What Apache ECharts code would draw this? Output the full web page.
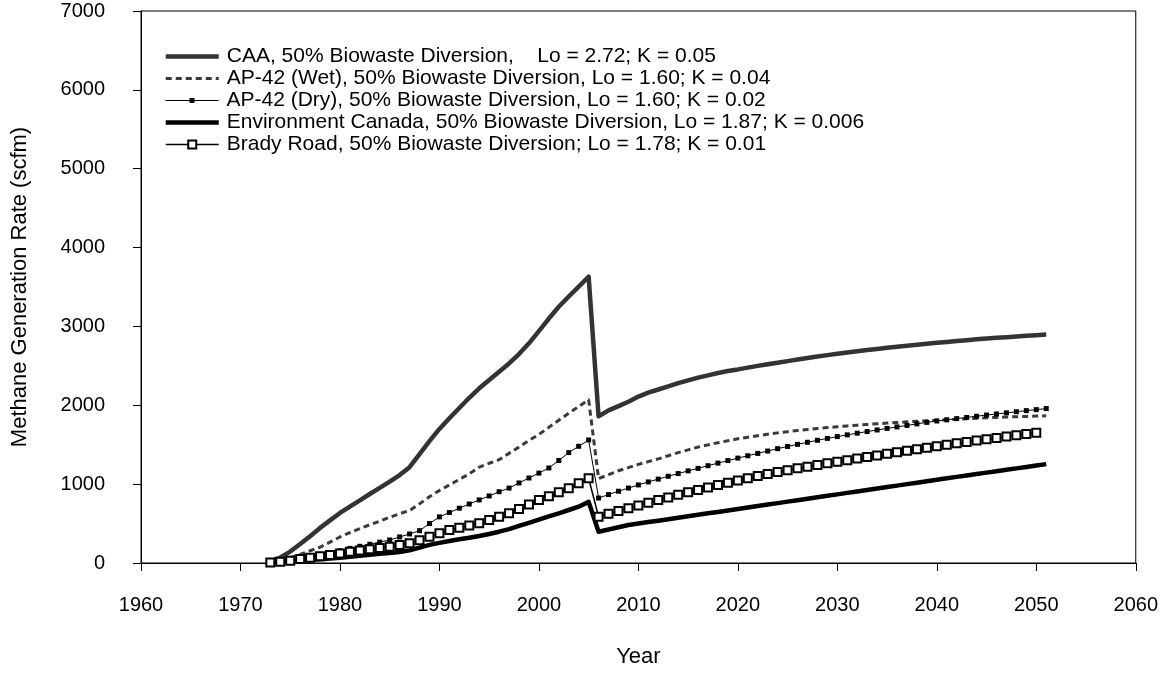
<!DOCTYPE html>
<html>
<head>
<meta charset="utf-8">
<script src="https://cdn.jsdelivr.net/npm/echarts@6/dist/echarts.min.js"></script>
<style>
  html, body { margin: 0; padding: 0; background: #fff; }
  #chart { width: 1161px; height: 675px; }
</style>
</head>
<body>
<div id="chart"></div>
<script>
// Landfill methane generation forecasts, annual values (scfm)
const years = [
  1973, 1974, 1975, 1976, 1977, 1978, 1979, 1980, 1981, 1982,
  1983, 1984, 1985, 1986, 1987, 1988, 1989, 1990, 1991, 1992,
  1993, 1994, 1995, 1996, 1997, 1998, 1999, 2000, 2001, 2002,
  2003, 2004, 2005, 2006, 2007, 2008, 2009, 2010, 2011, 2012,
  2013, 2014, 2015, 2016, 2017, 2018, 2019, 2020, 2021, 2022,
  2023, 2024, 2025, 2026, 2027, 2028, 2029, 2030, 2031, 2032,
  2033, 2034, 2035, 2036, 2037, 2038, 2039, 2040, 2041, 2042,
  2043, 2044, 2045, 2046, 2047, 2048, 2049, 2050, 2051
];

const caa = [
  20, 70, 145, 240, 340, 445, 540, 635, 715, 795,
  875, 953, 1031, 1115, 1215, 1380, 1545, 1700, 1835, 1965,
  2095, 2215, 2320, 2425, 2530, 2650, 2786, 2940, 3100, 3250,
  3380, 3505, 3630, 1860, 1935, 1990, 2045, 2110, 2160, 2200,
  2240, 2280, 2315, 2350, 2380, 2410, 2435, 2455, 2478, 2500,
  2520, 2540, 2560, 2580, 2600, 2618, 2636, 2653, 2669, 2685,
  2700, 2715, 2729, 2743, 2756, 2769, 2781, 2793, 2804, 2815,
  2826, 2836, 2846, 2855, 2864, 2873, 2881, 2889, 2897
];

const ap42Wet = [
  10, 35, 70, 110, 155, 200, 265, 330, 385, 435,
  485, 530, 580, 625, 665, 750, 840, 920, 990, 1060,
  1130, 1215, 1265, 1310, 1390, 1470, 1555, 1630, 1720, 1810,
  1900, 1985, 2070, 1070, 1120, 1170, 1210, 1250, 1285, 1320,
  1360, 1400, 1435, 1470, 1498, 1525, 1550, 1575, 1595, 1615,
  1633, 1650, 1665, 1680, 1693, 1705, 1717, 1728, 1738, 1748,
  1757, 1766, 1774, 1782, 1790, 1797, 1804, 1811, 1818, 1824,
  1830, 1836, 1841, 1846, 1851, 1855, 1859, 1863, 1867
];

const ap42Dry = [
  5, 20, 35, 52, 72, 100, 125, 155, 185, 212,
  238, 265, 292, 330, 368, 410, 500, 585, 640, 695,
  748, 800, 850, 904, 950, 1015, 1078, 1140, 1205, 1300,
  1400, 1480, 1560, 824, 868, 910, 950, 990, 1028, 1064,
  1100, 1134, 1168, 1200, 1234, 1267, 1299, 1330, 1360, 1390,
  1420, 1450, 1478, 1505, 1531, 1556, 1580, 1603, 1625, 1646,
  1667, 1687, 1707, 1726, 1745, 1764, 1783, 1801, 1816, 1831,
  1846, 1861, 1876, 1890, 1904, 1918, 1932, 1945, 1958
];

const envCanada = [
  5, 12, 20, 28, 37, 46, 56, 67, 80, 92,
  104, 116, 128, 140, 160, 195, 230, 255, 280, 300,
  320, 342, 368, 397, 430, 470, 510, 550, 590, 630,
  672, 714, 775, 397, 425, 454, 482, 500, 519, 537,
  556, 574, 593, 611, 630, 648, 667, 685, 704, 722,
  741, 759, 778, 796, 815, 833, 852, 870, 889, 907,
  926, 944, 963, 981, 1000, 1018, 1037, 1055, 1074, 1092,
  1110, 1128, 1146, 1164, 1182, 1200, 1218, 1236, 1254
];

const bradyRoad = [
  5, 15, 30, 50, 68, 85, 103, 122, 143, 158,
  174, 190, 207, 228, 250, 290, 334, 376, 418, 446,
  475, 503, 545, 587, 630, 685, 742, 799, 848, 898,
  947, 1010, 1074, 587, 625, 660, 694, 730, 765, 799,
  832, 864, 896, 927, 958, 988, 1018, 1047, 1075, 1102,
  1128, 1153, 1177, 1200, 1222, 1243, 1264, 1284, 1304, 1324,
  1344, 1364, 1384, 1404, 1423, 1442, 1461, 1480, 1499, 1518,
  1535, 1552, 1569, 1586, 1603, 1620, 1636, 1652, null
];

const seriesNames = [
  'CAA, 50% Biowaste Diversion,    Lo = 2.72; K = 0.05',
  'AP-42 (Wet), 50% Biowaste Diversion, Lo = 1.60; K = 0.04',
  'AP-42 (Dry), 50% Biowaste Diversion, Lo = 1.60; K = 0.02',
  'Environment Canada, 50% Biowaste Diversion, Lo = 1.87; K = 0.006',
  'Brady Road, 50% Biowaste Diversion; Lo = 1.78; K = 0.01'
];

const xTicks = { min: 1960, max: 2060, step: 10 };
const yTicks = { min: 0, max: 7000, step: 1000 };

const FONT = 'Liberation Sans, Arial, sans-serif';

// per-series line look, shared by the plotted lines and their legend keys
const looks = [
  { color: '#333333', width: 4.5, type: 'solid', symbol: 'none' },
  { color: '#3a3a3a', width: 3, type: [6, 4], symbol: 'none' },
  { color: '#000000', width: 1, type: 'solid', symbol: 'rect', size: 5 },
  { color: '#000000', width: 4.5, type: 'solid', symbol: 'none' },
  { color: '#000000', width: 1.5, type: 'solid', symbol: 'emptyRect', size: 8 }
];

function pairs(values) {
  return years.map((y, i) => [y, values[i]]);
}

// one legend block per entry so each key can be sized on its own;
// entries whose series draw no markers get a hidden legend marker.
// Thick keys widen the block's bounds, so shift them left to keep
// every key starting at the same x.
const legendCenters = [58, 80, 102, 124, 146];

const legends = seriesNames.map((name, i) => {
  const lk = looks[i];
  const hasMarker = lk.symbol !== 'none';
  return {
    data: [hasMarker ? { name } : { name, itemStyle: { opacity: 0 } }],
    orient: 'vertical',
    left: 165 - Math.max(0, (lk.width - 1.5) / 2),
    top: legendCenters[i] - 12,
    padding: 0,
    itemWidth: 53,
    itemHeight: hasMarker ? lk.size / 0.8 : 10,
    selectedMode: false,
    lineStyle: { width: lk.width, color: lk.color, type: lk.type },
    textStyle: { fontSize: 21, color: '#000', fontFamily: FONT, padding: [0, 0, 0, 3] }
  };
});

const dataSets = [caa, ap42Wet, ap42Dry, envCanada, bradyRoad];

const series = dataSets.map((vals, i) => {
  const lk = looks[i];
  const s = {
    name: seriesNames[i],
    type: 'line',
    data: pairs(vals),
    symbol: lk.symbol,
    itemStyle: { color: lk.color },
    lineStyle: { color: lk.color, width: lk.width, type: lk.type, join: 'round' }
  };
  if (lk.symbol !== 'none') {
    s.symbolSize = lk.size;
    if (lk.symbol === 'emptyRect') s.itemStyle.borderWidth = 1.5;
  }
  return s;
});

const option = {
  animation: false,
  backgroundColor: '#fff',
  legend: legends,
  grid: {
    left: 141, right: 23, top: 11, bottom: 112,
    show: true, borderColor: '#000', borderWidth: 1, backgroundColor: 'transparent'
  },
  xAxis: {
    type: 'value',
    min: xTicks.min, max: xTicks.max, interval: xTicks.step,
    name: 'Year',
    nameLocation: 'middle',
    nameGap: 83,
    nameTextStyle: { fontSize: 22, color: '#000', fontFamily: FONT },
    axisLine: { show: true, onZero: false, lineStyle: { color: '#000', width: 1 } },
    axisTick: { show: true, inside: false, length: 8, lineStyle: { color: '#000' } },
    axisLabel: { fontSize: 20, color: '#000', fontFamily: FONT, margin: 32, formatter: v => String(v) },
    splitLine: { show: false }
  },
  yAxis: {
    type: 'value',
    min: yTicks.min, max: yTicks.max, interval: yTicks.step,
    name: 'Methane Generation Rate (scfm)',
    nameLocation: 'middle',
    nameGap: 110,
    nameRotate: 90,
    nameTextStyle: { fontSize: 22, color: '#000', fontFamily: FONT },
    axisLine: { show: true, lineStyle: { color: '#000', width: 1 } },
    axisTick: { show: true, inside: false, length: 8, lineStyle: { color: '#000' } },
    axisLabel: { fontSize: 20, color: '#000', fontFamily: FONT, margin: 36, formatter: v => String(v) },
    splitLine: { show: false }
  },
  series
};

const chart = echarts.init(document.getElementById('chart'), null, { renderer: 'canvas' });
chart.setOption(option);
</script>
</body>
</html>
